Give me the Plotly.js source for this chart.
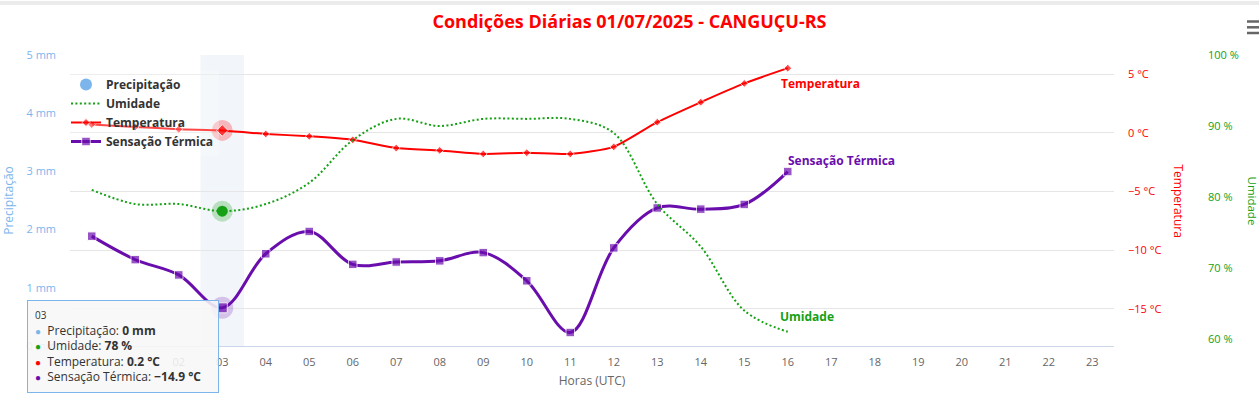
<!DOCTYPE html>
<html>
<head>
<meta charset="utf-8">
<script src="https://cdn.plot.ly/plotly-3.0.1.min.js"></script>
<style>
html,body{margin:0;padding:0;background:#fff;}
#chart{width:1259px;height:394px;}
</style>
</head>
<body>
<div id="chart"></div>
<script>
// ---- data ----
const hours = ['00','01','02','03','04','05','06','07','08','09','10','11','12','13','14','15','16','17','18','19','20','21','22','23'];
const dataHours = ['00','01','02','03','04','05','06','07','08','09','10','11','12','13','14','15','16'];
const precipitacao = [0,0,0,0,0,0,0,0,0,0,0,0,0,0,0,0,0];
const umidade = [81,79,79,78,79,82,88,91,90,91,91,91,89,79,73,64,61];
const temperatura = [0.7,0.5,0.3,0.2,-0.1,-0.3,-0.6,-1.3,-1.5,-1.8,-1.7,-1.8,-1.2,0.9,2.6,4.2,5.5];
const sensacao = [-8.8,-10.8,-12.1,-14.9,-10.3,-8.4,-11.2,-11.0,-10.9,-10.2,-12.6,-17.0,-9.8,-6.4,-6.5,-6.1,-3.3];
const tempTicks = [-15,-10,-5,0,5];
const umidTicks = [60,70,80,90,100];
const precTicks = [0,1,2,3,4,5];
const hoverHour = '03';

// ---- styles ----
const FONT = 'Open Sans, sans-serif';
const C_PREC = '#7cb5ec', C_UMID = '#15a015', C_TEMP = '#ff0000', C_SENS = '#6a0dad';
const hi = dataHours.indexOf(hoverHour);
const last = dataHours.length - 1;

const W = 1259, H = 394, ML = 70, MR = 40, MT = 55, MB = 48;
const PW = W - ML - MR, PH = H - MT - MB;
const px = v => (v - ML) / PW;          // pixel x -> paper
const py = v => (H - MB - v) / PH;      // pixel y -> paper

const minus = s => String(s).replace('-', '\u2212');

const traces = [
  {type:'bar', x:dataHours, y:precipitacao, yaxis:'y', marker:{color:C_PREC}, showlegend:false, legendgroup:'p', hoverinfo:'skip'},
  {type:'scatter', mode:'markers', x:[null], y:[null], yaxis:'y', name:'Precipitação', legendgroup:'p',
   marker:{color:C_PREC, size:12, symbol:'circle'}},
  {type:'scatter', mode:'markers', x:[dataHours[hi]], y:[umidade[hi]], yaxis:'y3', showlegend:false, hoverinfo:'skip',
   marker:{color:C_UMID, opacity:0.25, size:21}},
  {type:'scatter', mode:'lines', x:dataHours, y:umidade, yaxis:'y3', name:'Umidade',
   line:{color:C_UMID, width:2, dash:'2px,2.4px', shape:'spline', smoothing:1}},
  {type:'scatter', mode:'markers', x:[dataHours[hi]], y:[umidade[hi]], yaxis:'y3', showlegend:false, hoverinfo:'skip',
   marker:{color:C_UMID, size:11}},
  {type:'scatter', mode:'markers', x:[dataHours[hi]], y:[temperatura[hi]], yaxis:'y2', showlegend:false, hoverinfo:'skip',
   marker:{color:C_TEMP, opacity:0.25, size:21}},
  {type:'scatter', mode:'lines+markers', x:dataHours, y:temperatura, yaxis:'y2', name:'Temperatura',
   line:{color:C_TEMP, width:2, shape:'spline', smoothing:0.6},
   marker:{color:C_TEMP, symbol:'diamond', size:dataHours.map((h,i)=> i===hi ? 9 : 6)}},
  {type:'scatter', mode:'markers', x:[dataHours[hi]], y:[sensacao[hi]], yaxis:'y2', showlegend:false, hoverinfo:'skip',
   marker:{color:C_SENS, opacity:0.22, size:22}},
  {type:'scatter', mode:'lines+markers', x:dataHours, y:sensacao, yaxis:'y2', name:'Sensação Térmica',
   line:{color:C_SENS, width:3, shape:'spline', smoothing:1},
   marker:{color:C_SENS, symbol:'square', size:dataHours.map((h,i)=> i===hi ? 10 : 8.5)}}
];

const bullet = c => '<span style="color:' + c + ';font-size:10px">●</span>&nbsp; ';
const tipText =
  '<span style="font-size:10px">' + hoverHour + '</span><br>' +
  bullet(C_PREC) + 'Precipitação: <b>' + precipitacao[hi] + ' mm</b><br>' +
  bullet(C_UMID) + 'Umidade: <b>' + umidade[hi] + ' %</b><br>' +
  bullet(C_TEMP) + 'Temperatura: <b>' + minus(temperatura[hi].toFixed(1)) + ' °C</b><br>' +
  bullet(C_SENS) + 'Sensação Térmica: <b>' + minus(sensacao[hi].toFixed(1)) + ' °C</b>';

const layout = {
  width:W, height:H,
  margin:{l:ML, r:MR, t:MT, b:MB, pad:0},
  paper_bgcolor:'#fff', plot_bgcolor:'rgba(0,0,0,0)',
  font:{family:FONT, size:11, color:'#666'},
  title:{text:'Condições Diárias 01/07/2025 - CANGUÇU-RS', x:0.5, xref:'container', xanchor:'center',
         y:1 - 22/H, yref:'container', yanchor:'middle',
         font:{family:FONT, size:18, color:'#ff0000', weight:'bold'}},
  showlegend:true,
  legend:{x:px(66), y:py(70), xanchor:'left', yanchor:'top', bgcolor:'rgba(255,255,255,0.28)',
          font:{family:FONT, size:12, color:'#333', weight:'bold'}, tracegroupgap:0, itemwidth:30},
  bargap:0.2,
  xaxis:{type:'category', categoryorder:'array', categoryarray:hours, tickvals:hours, range:[-0.5, hours.length-0.5],
         domain:[0, px(1114)], showgrid:false, zeroline:false, showline:true, linecolor:'#ccd6eb', linewidth:1,
         ticks:'', ticklabelstandoff:6, tickfont:{family:FONT, size:11, color:'#666'},
         title:{text:'Horas (UTC)', font:{family:FONT, size:12, color:'#666'}, standoff:8}},
  yaxis:{range:[0,5], tickmode:'array', tickvals:precTicks, ticktext:precTicks.map(v => v + ' mm'),
         showgrid:false, zeroline:false, showline:false, ticks:'',
         tickfont:{family:FONT, size:11, color:C_PREC}, ticklabelstandoff:13,
         title:{text:'Precipitação', font:{family:FONT, size:12, color:C_PREC}, standoff:12}},
  yaxis2:{overlaying:'y', side:'right', anchor:'x', range:[-18.15, 6.62], tickmode:'array', tickvals:tempTicks,
          ticktext:tempTicks.map(v => minus(v) + ' °C'),
          showgrid:true, gridcolor:'#e6e6e6', gridwidth:1, zeroline:false, showline:false, ticks:'',
          tickfont:{family:FONT, size:11, color:C_TEMP}, ticklabelstandoff:13},
  yaxis3:{overlaying:'y', side:'right', anchor:'free', position:px(1203), range:[59,100], tickmode:'array', tickvals:umidTicks,
          ticktext:umidTicks.map(v => v + ' %'),
          showgrid:false, zeroline:false, showline:false, ticks:'',
          tickfont:{family:FONT, size:11, color:C_UMID}, ticklabelstandoff:4},
  shapes:[
    {type:'rect', xref:'paper', yref:'paper', x0:px(0), x1:px(W), y0:py(1), y1:py(5), fillcolor:'#ebebeb', line:{width:0}, layer:'below'},
    {type:'rect', xref:'x', yref:'paper', x0:hours.indexOf(hoverHour)-0.5, x1:hours.indexOf(hoverHour)+0.5, y0:0, y1:1,
     fillcolor:'rgba(204,214,235,0.25)', line:{width:0}, layer:'below'},
    {type:'line', xref:'paper', yref:'paper', x0:px(1247), x1:px(1259), y0:py(21.5), y1:py(21.5), line:{color:'#666', width:2.5}},
    {type:'line', xref:'paper', yref:'paper', x0:px(1247), x1:px(1259), y0:py(27.3), y1:py(27.3), line:{color:'#666', width:2.5}},
    {type:'line', xref:'paper', yref:'paper', x0:px(1247), x1:px(1259), y0:py(33), y1:py(33), line:{color:'#666', width:2.5}}
  ],
  annotations:[
    {xref:'paper', yref:'paper', x:px(1178), y:0.5, text:'Temperatura', textangle:90, showarrow:false,
     xanchor:'center', yanchor:'middle', font:{family:FONT, size:12, color:C_TEMP}},
    {xref:'paper', yref:'paper', x:px(1252), y:0.5, text:'Umidade', textangle:90, showarrow:false,
     xanchor:'center', yanchor:'middle', font:{family:FONT, size:11.5, color:C_UMID}},
    {xref:'x', yref:'y2', x:dataHours[last], y:temperatura[last], text:'<b>Temperatura</b>', showarrow:false,
     xanchor:'left', yanchor:'middle', xshift:-9, yshift:-15, font:{family:FONT, size:12, color:C_TEMP}},
    {xref:'x', yref:'y2', x:dataHours[last], y:sensacao[last], text:'<b>Sensação Térmica</b>', showarrow:false,
     xanchor:'left', yanchor:'middle', xshift:-2, yshift:11, font:{family:FONT, size:12, color:C_SENS}},
    {xref:'x', yref:'y3', x:dataHours[last], y:umidade[last], text:'<b>Umidade</b>', showarrow:false,
     xanchor:'left', yanchor:'middle', xshift:-10, yshift:15, font:{family:FONT, size:12, color:C_UMID}},
    {xref:'paper', yref:'paper', x:px(27), y:py(300), xanchor:'left', yanchor:'top', align:'left', valign:'top',
     text:tipText, showarrow:false, bgcolor:'rgba(247,247,247,0.88)', bordercolor:C_PREC, borderwidth:1, borderpad:7,
     width:176, height:77, font:{family:FONT, size:12, color:'#333'}}
  ]
};

Plotly.newPlot('chart', traces, layout, {displayModeBar:false, responsive:false});
</script>
</body>
</html>
